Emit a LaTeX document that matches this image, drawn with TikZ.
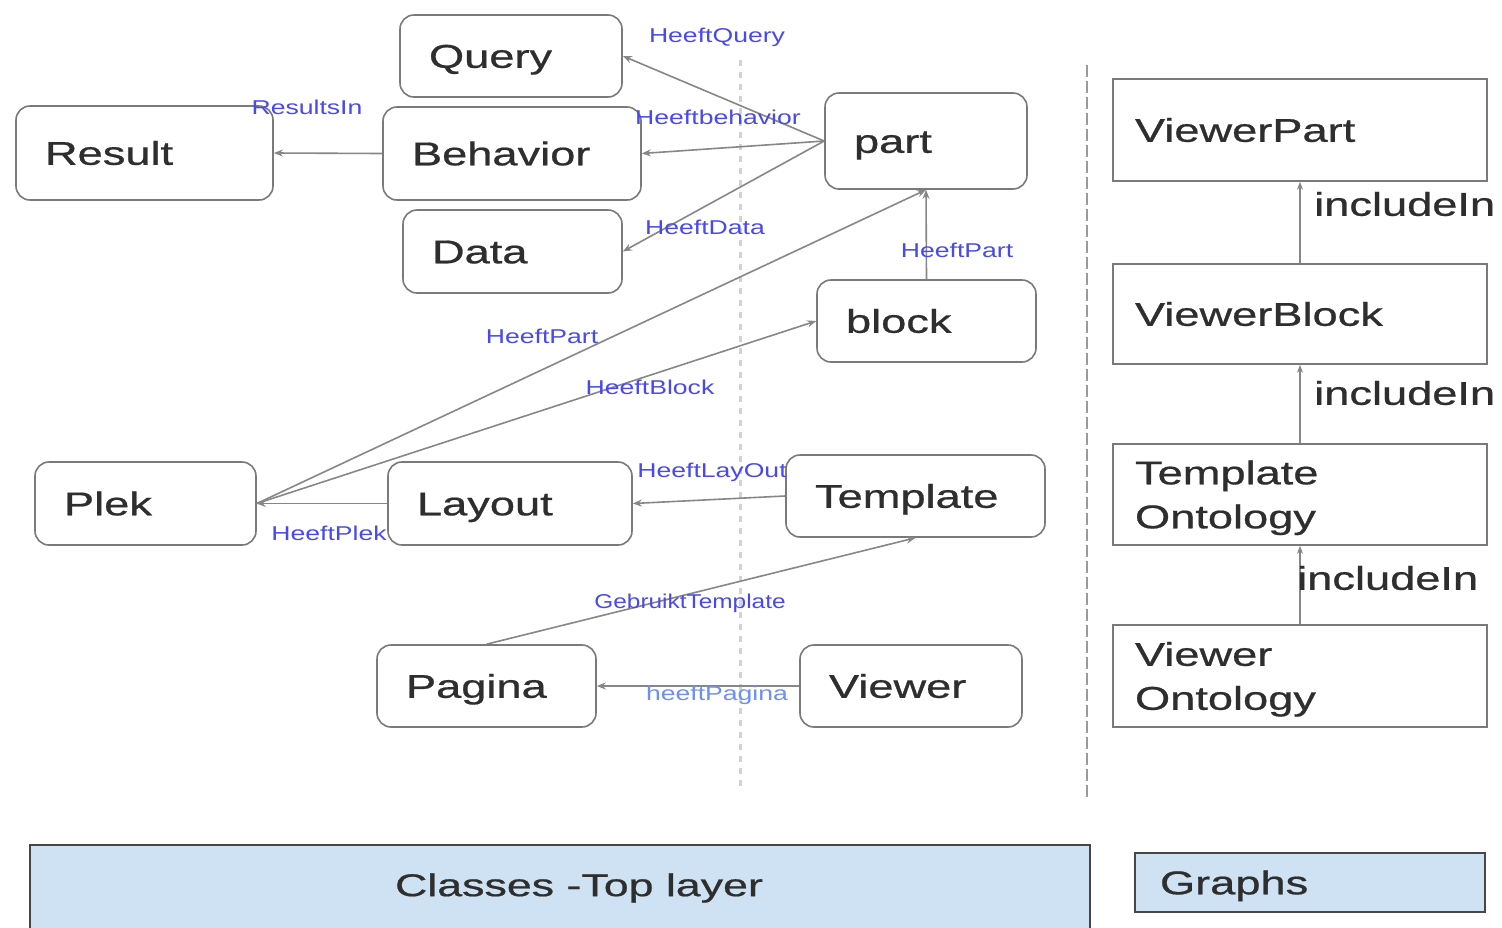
\documentclass[tikz,border=0pt]{standalone}
\usepackage{fontspec}
\setmainfont[BoldFont={Liberation Sans}, BoldFeatures={FakeBold=0.6}]{Liberation Sans}
\usepackage{graphicx}
\usetikzlibrary{arrows.meta}

\definecolor{edgegray}{HTML}{878787}
\definecolor{boxgray}{HTML}{7A7A7A}
\definecolor{inkgray}{HTML}{2E2E2E}
\definecolor{relblue}{HTML}{4A4AEA}
\definecolor{relbluelight}{HTML}{6E90F0}
\definecolor{layerblue}{HTML}{CFE2F3}
\definecolor{layerline}{HTML}{474747}
\definecolor{sepgray}{HTML}{9A9A9A}
\definecolor{sepgraylight}{HTML}{D2D2D2}

% wide set text
\newcommand\wx[1]{\scalebox{1.37}[1]{#1}}
\newcommand\wl[1]{\scalebox{1.33}[1]{#1}}

\begin{document}
\begin{tikzpicture}[x=1pt,y=-1pt,
  cls/.style={draw=boxgray, line width=1.6pt, rounded corners=14pt, fill=white,
    inner xsep=29pt, inner ysep=0pt, align=left, text=inkgray,
    font=\fontsize{33}{44}\selectfont\bfseries, text height=23.6pt, text depth=0pt},
  onto/.style={draw=boxgray, line width=1.6pt, fill=white,
    inner xsep=22pt, inner ysep=0pt, align=left, text=inkgray, text width=330pt,
    font=\fontsize{33}{44}\selectfont\bfseries, text height=23.6pt, text depth=0pt},
  twoline/.style={text depth=44pt},
  layer/.style={draw=layerline, line width=1.6pt, fill=layerblue, inner sep=0pt},
  rel/.style={draw=edgegray, line width=1.6pt, -{Stealth[length=9pt,width=7pt]}},
  inc/.style={draw=edgegray, line width=1.4pt, -{Stealth[length=8pt,width=6pt]}},
  lbl/.style={text=relblue, font=\fontsize{20}{24}\selectfont, inner sep=0pt},
  inclbl/.style={anchor=west, text=inkgray, font=\fontsize{33}{40}\selectfont\bfseries, inner sep=0pt},
]
\useasboundingbox (0,0) rectangle (1502,927);
\fill[white] (0,0) rectangle (1502,927);

% separators
\draw[sepgraylight, line width=3pt, dash pattern=on 6pt off 6pt] (740,60) -- (740,790);
\draw[sepgray, line width=2pt, dash pattern=on 12pt off 4pt] (1087,65) -- (1087,797);

% class nodes
\node[cls, text width=164pt, minimum height=82pt] (query)    at (511,56)      {\wx{Query}};
\node[cls, text width=200pt, minimum height=93pt] (behavior) at (512,153.5)   {\wx{Behavior}};
\node[cls, text width=161pt, minimum height=83pt] (data)     at (512.5,251.5) {\wx{Data}};
\node[cls, text width=199pt, minimum height=94pt] (result)   at (144.5,153)   {\wx{Result}};
\node[cls, text width=144pt, minimum height=96pt] (part)     at (926,141)     {\wx{part}};
\node[cls, text width=161pt, minimum height=82pt] (block)    at (926.5,321)   {\wx{block}};
\node[cls, text width=163pt, minimum height=83pt] (plek)     at (145.5,503.5) {\wx{Plek}};
\node[cls, text width=186pt, minimum height=83pt] (layout)   at (510,503.5)   {\wx{Layout}};
\node[cls, text width=201pt, minimum height=82pt] (template) at (915.5,496)   {\wx{Template}};
\node[cls, text width=161pt, minimum height=82pt] (pagina)   at (486.5,686)   {\wx{Pagina}};
\node[cls, text width=164pt, minimum height=82pt] (viewer)   at (911,686)     {\wx{Viewer}};

% relations
\draw[rel] (part.west) -- (query.east);
\draw[rel] (part.west) -- (behavior.east);
\draw[rel] (part.west) -- (data.east);
\draw[rel] (behavior.west) -- (result.east);
\draw[rel] (block.north) -- (part.south);
\draw[rel] (plek.east) -- (part.south);
\draw[rel] (plek.east) -- (block.west);
\draw[rel] (template.west) -- (layout.east);
\draw[rel] (layout.west) -- (plek.east);
\draw[rel] (pagina.north) -- (template.south);
\draw[rel] (viewer.west) -- (pagina.east);

% relation labels
\node[lbl] (lquery)    at (717,37)  {\wl{HeeftQuery}};
\node[lbl] (lbehavior) at (718,117) {\wl{Heeftbehavior}};
\node[lbl] (ldata)     at (705,227) {\wl{HeeftData}};
\node[lbl] (lresult)   at (307,107) {\wl{ResultsIn}};
\node[lbl] (lpart)     at (957,250) {\wl{HeeftPart}};
\node[lbl] (lplekpart) at (542,336) {\wl{HeeftPart}};
\node[lbl] (lblock)    at (650,387) {\wl{HeeftBlock}};
\node[lbl] (llayout)   at (712,472) {\wl{HeeftLayOut}};
\node[lbl] (lplek)     at (329,533) {\wl{HeeftPlek}};
\node[lbl] (ltemplate) at (690,603) {\scalebox{1.22}[1]{GebruiktTemplate}};
\node[lbl, text=relbluelight] (lpagina) at (717,695) {\wl{heeftPagina}};

% ontology graphs
\node[onto, minimum height=102pt] (vpart)  at (1300,130)   {\wx{ViewerPart}};
\node[onto, minimum height=100pt] (vblock) at (1300,314)   {\wx{ViewerBlock}};
\node[onto, twoline, minimum height=101pt] (tonto) at (1300,494.5) {\wx{Template}\\\wx{Ontology}};
\node[onto, twoline, minimum height=102pt] (vonto) at (1300,676)   {\wx{Viewer}\\\wx{Ontology}};

\draw[inc] (vblock.north) -- (vpart.south);
\draw[inc] (tonto.north) -- (vblock.south);
\draw[inc] (vonto.north) -- (tonto.south);
\node[inclbl] (inc1) at (1314,204) {\wx{includeIn}};
\node[inclbl] (inc2) at (1314,393) {\wx{includeIn}};
\node[inclbl] (inc3) at (1297,578) {\wx{includeIn}};

% layers
\node[layer, minimum width=1060pt, minimum height=90pt] (classes) at (560,890) {};
\node[text=inkgray, font=\fontsize{31.5}{36}\selectfont\bfseries, inner sep=0pt] (classestxt) at (579,888) {\scalebox{1.42}[1]{Classes -Top layer}};
\node[layer, minimum width=350pt, minimum height=59pt, inner xsep=25pt, text width=300pt,
      align=left, text=inkgray, font=\fontsize{33}{40}\selectfont\bfseries, text height=23.6pt, text depth=0pt]
      (graphs) at (1310,882.5) {\wx{Graphs}};
\end{tikzpicture}
\end{document}
